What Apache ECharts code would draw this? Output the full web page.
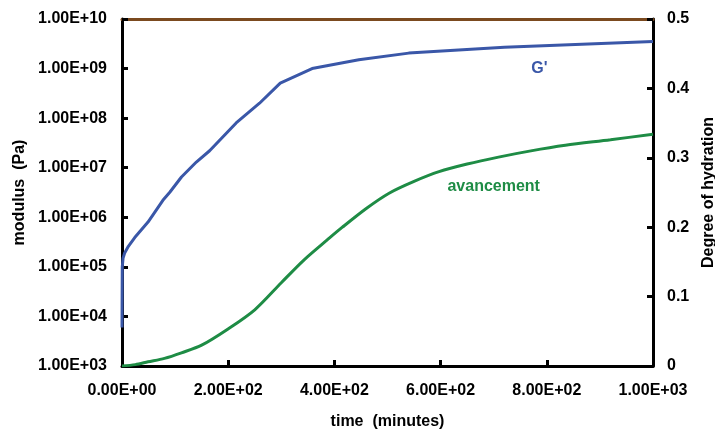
<!DOCTYPE html>
<html><head><meta charset="utf-8">
<script src="https://cdn.jsdelivr.net/npm/echarts@6/dist/echarts.min.js"></script>
<style>html,body{margin:0;padding:0;background:#fff}#c{width:715px;height:430px}</style>
</head><body><div id="c"></div>
<script>
const gTime = [0, 0.5, 2, 5, 12, 24, 49, 77, 90, 112, 140, 165, 215, 259, 298, 358, 446, 540, 720, 1000];
const gValue = [6e3, 1e5, 1.5e5, 1.9e5, 2.6e5, 3.9e5, 8e5, 2.2e6, 3.2e6, 6.5e6, 1.3e7, 2.2e7, 8e7, 2e8, 5.1e8, 1.0e9, 1.5e9, 2.05e9, 2.7e9, 3.5e9];
const hTime = [0, 25, 49, 80, 112, 150, 199, 250, 300, 343, 387, 415, 460, 503, 550, 597, 650, 709, 770, 835, 920, 1000];
const hValue = [0, 0.002, 0.006, 0.011, 0.019, 0.030, 0.053, 0.081, 0.120, 0.153, 0.182, 0.200, 0.227, 0.249, 0.266, 0.280, 0.291, 0.301, 0.310, 0.318, 0.326, 0.334];
const logTicks = [1e3, 1e4, 1e5, 1e6, 1e7, 1e8, 1e9, 1e10];
const labelG = ["G'", 786, 1.0e9];
const labelH = ["avancement", 700, 0.258];

function sci(v, d) {
  if (v === 0) return (0).toFixed(d) + 'E+00';
  let e = Math.floor(Math.log10(Math.abs(v)) + 1e-9);
  let m = v / Math.pow(10, e);
  return m.toFixed(d) + 'E' + (e < 0 ? '-' : '+') + String(Math.abs(e)).padStart(2, '0');
}
const FONT = 'Liberation Sans, Arial, sans-serif';
const chart = echarts.init(document.getElementById('c'));
chart.setOption({
  animation: false,
  textStyle: {fontFamily: FONT},
  grid: {left: 122, right: 62, top: 19, bottom: 64, containLabel: false, outerBoundsMode: 'none'},
  xAxis: [{
    type: 'value', min: 0, max: 1000, interval: 200,
    name: 'time  (minutes)', nameLocation: 'middle', nameGap: 48,
    nameTextStyle: {fontFamily: FONT, fontWeight: 'bold', fontSize: 16, color: '#000'},
    axisLine: {onZero: false, lineStyle: {color: '#000', width: 3}},
    axisTick: {inside: true, length: 6, lineStyle: {color: '#000', width: 3}},
    axisLabel: {margin: 17, fontFamily: FONT, fontWeight: 'bold', fontSize: 16, color: '#000', formatter: v => sci(v, 2)},
    splitLine: {show: false}
  }, {
    type: 'value', min: 0, max: 1000, position: 'top',
    axisLine: {show: true, onZero: false, lineStyle: {color: '#7B4A1F', width: 3}},
    axisTick: {show: false}, axisLabel: {show: false}, splitLine: {show: false}
  }],
  yAxis: [{
    type: 'log', logBase: 10, min: 1e3, max: 1e10, position: 'left',
    name: 'modulus  (Pa)', nameLocation: 'middle', nameGap: 88,
    nameTextStyle: {fontFamily: FONT, fontWeight: 'bold', fontSize: 16, color: '#000'},
    axisLine: {show: true, onZero: false, lineStyle: {color: '#000', width: 3}},
    axisTick: {show: true, inside: true, length: 6, customValues: logTicks, lineStyle: {color: '#000', width: 3}},
    minorTick: {show: false},
    axisLabel: {margin: 15, customValues: logTicks, fontFamily: FONT, fontWeight: 'bold', fontSize: 16, color: '#000', formatter: v => sci(v, 2)},
    splitLine: {show: false}
  }, {
    type: 'value', min: 0, max: 0.5, interval: 0.1, position: 'right',
    name: 'Degree of hydration', nameLocation: 'middle', nameGap: 46, nameRotate: 90,
    nameTextStyle: {fontFamily: FONT, fontWeight: 'bold', fontSize: 16, color: '#000'},
    axisLine: {show: true, onZero: false, lineStyle: {color: '#000', width: 3}},
    axisTick: {show: true, inside: true, length: 6, lineStyle: {color: '#000', width: 3}},
    axisLabel: {margin: 14, fontFamily: FONT, fontWeight: 'bold', fontSize: 16, color: '#000', formatter: v => String(Math.round(v * 10) / 10)},
    splitLine: {show: false}
  }],
  series: [{
    type: 'line', xAxisIndex: 0, yAxisIndex: 0, showSymbol: false,
    data: gTime.map((t, i) => [t, gValue[i]]),
    lineStyle: {color: '#3A57A8', width: 3}, itemStyle: {color: '#3A57A8'},
    markPoint: {symbol: 'circle', symbolSize: 0, silent: true,
      label: {show: true, position: 'inside', formatter: labelG[0], color: '#3A57A8', fontFamily: FONT, fontWeight: 'bold', fontSize: 16},
      data: [{coord: [labelG[1], labelG[2]]}]}
  }, {
    type: 'line', xAxisIndex: 0, yAxisIndex: 1, showSymbol: false, smooth: 0.3,
    data: hTime.map((t, i) => [t, hValue[i]]),
    lineStyle: {color: '#1E8C45', width: 3}, itemStyle: {color: '#1E8C45'},
    markPoint: {symbol: 'circle', symbolSize: 0, silent: true,
      label: {show: true, position: 'inside', formatter: labelH[0], color: '#1E8C45', fontFamily: FONT, fontWeight: 'bold', fontSize: 16},
      data: [{coord: [labelH[1], labelH[2]]}]}
  }]
});
</script></body></html>
